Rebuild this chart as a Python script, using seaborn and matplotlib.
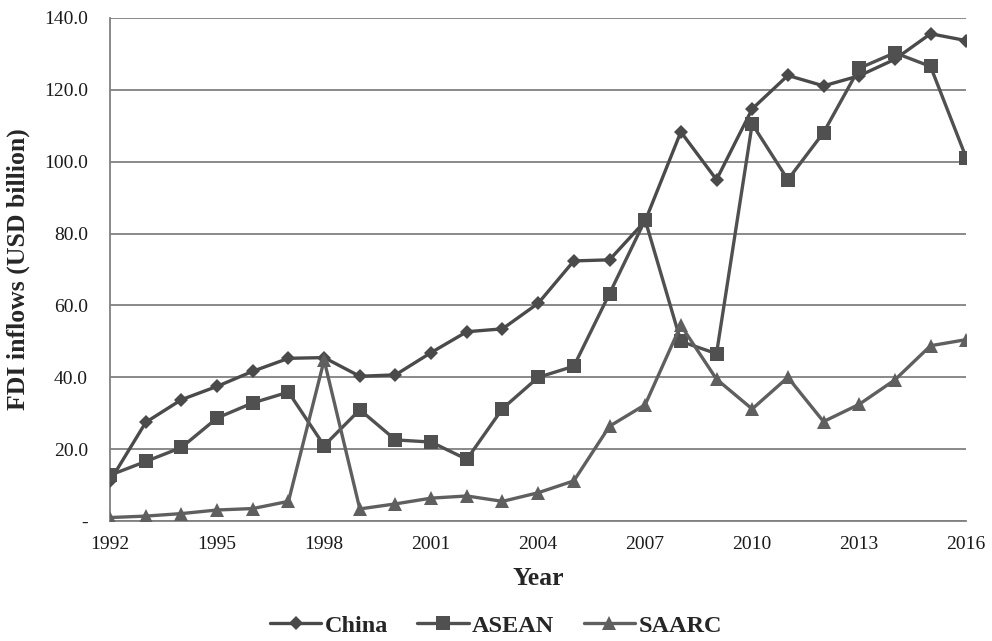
import numpy as np
import pandas as pd
import matplotlib
matplotlib.use("Agg")
import matplotlib.pyplot as plt
import seaborn as sns

# dados (USD bilhões)
years = list(range(1992, 2017))
china = [11.2, 27.5, 33.8, 37.5, 41.7, 45.3, 45.5, 40.3, 40.7, 46.9, 52.7, 53.5, 60.6,
         72.4, 72.7, 83.5, 108.3, 95.0, 114.7, 124.0, 121.1, 123.9, 128.5, 135.6, 133.7]
asean = [12.8, 16.6, 20.5, 28.7, 32.9, 35.9, 21.0, 31.0, 22.6, 22.0, 17.2, 31.3, 40.0,
         43.1, 63.3, 83.8, 50.0, 46.6, 110.5, 95.0, 108.1, 126.0, 130.3, 126.5, 101.1]
saarc = [1.0, 1.4, 2.1, 3.1, 3.5, 5.5, 44.8, 3.4, 4.8, 6.4, 7.0, 5.5, 7.9,
         11.2, 26.4, 32.4, 54.5, 39.5, 31.2, 40.0, 27.7, 32.5, 39.3, 48.8, 50.5]
regions = ["China", "ASEAN", "SAARC"]

df = pd.DataFrame({
    "Year": years * 3,
    "FDI": china + asean + saarc,
    "Region": sum([[r] * len(years) for r in regions], []),
})

sns.set_style("white")
plt.rcParams["font.family"] = ["Liberation Serif", "DejaVu Serif"]

fig = plt.figure(figsize=(9.92, 6.41), dpi=100)
ax = fig.add_axes([0.111, 0.187, 0.863, 0.785])

# estilo de cada série
styles = {
    "China": dict(color="#4a4a4a", marker="D", markersize=7.5),
    "ASEAN": dict(color="#505050", marker="s", markersize=10),
    "SAARC": dict(color="#5f5f5f", marker="^", markersize=10.5),
}
for r in regions:
    sub = df[df["Region"] == r]
    s = styles[r]
    sns.lineplot(data=sub, x="Year", y="FDI", ax=ax, label=r, color=s["color"],
                 marker=s["marker"], markersize=s["markersize"], linewidth=2.4,
                 markeredgewidth=0, zorder=3, legend=False)

ax.set_xlim(1992, 2016)
ax.set_ylim(0, 140)
ax.set_xticks(range(1992, 2017, 3))
ax.set_yticks(np.arange(0, 141, 20))
ax.set_yticklabels(["-"] + [f"{v:.1f}" for v in np.arange(20, 141, 20)])
ax.yaxis.grid(True, color="#808080", linewidth=1.3)
ax.set_axisbelow(True)

for side in ["top", "right"]:
    ax.spines[side].set_visible(False)
for side in ["left", "bottom"]:
    ax.spines[side].set_color("#808080")
    ax.spines[side].set_linewidth(1.3)

ax.tick_params(axis="both", which="both", direction="out", length=6, width=1.3,
               color="#808080", labelsize=14, labelcolor="#1a1a1a")
ax.tick_params(axis="y", pad=10)
ax.tick_params(axis="x", pad=5)

ax.set_xlabel("Year", fontsize=18.5, fontweight="bold", labelpad=10)
ax.set_ylabel("FDI inflows (USD billion)", fontsize=18.5, fontweight="bold", labelpad=10)

handles = ax.get_lines()[:3]
fig.legend(handles, regions, loc="center", bbox_to_anchor=(0.5, 0.024), ncol=3,
           frameon=False, prop={"weight": "bold", "size": 17.5}, handlelength=2.1,
           handletextpad=0.15, columnspacing=1.2, borderaxespad=0)

fig.savefig("out.png", dpi=100)
